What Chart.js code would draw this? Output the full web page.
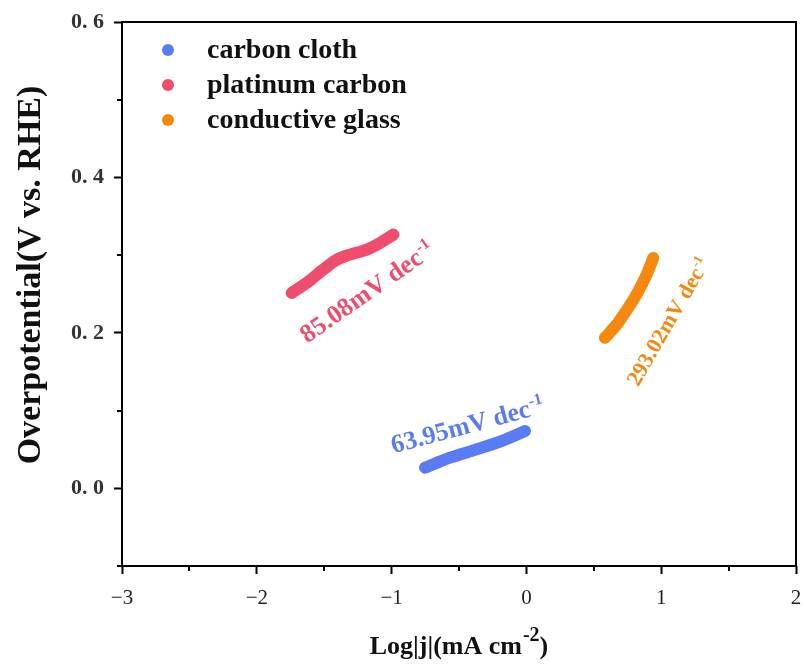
<!DOCTYPE html>
<html>
<head>
<meta charset="utf-8">
<title>Tafel plot</title>
<script src="https://cdn.jsdelivr.net/npm/chart.js@4/dist/chart.umd.min.js"></script>
<style>
  html, body { margin: 0; padding: 0; background: #fff; }
  canvas { display: block; }
</style>
</head>
<body>
<canvas id="tafel" width="803" height="670"></canvas>
<script>
// Series names
const seriesNames = ['carbon cloth', 'platinum carbon', 'conductive glass'];

// Log|j| values (mA cm-2) for each electrode
const clothLogJ    = [-0.752, -0.567, -0.369, -0.171, -0.010];
const platinumLogJ = [-1.741, -1.630, -1.507, -1.407, -1.309, -1.185, -1.086, -0.987];
const glassLogJ    = [0.583, 0.670, 0.756, 0.830, 0.892, 0.941];

// Overpotential values (V vs. RHE)
const clothEta    = [0.0266, 0.0394, 0.0501, 0.0617, 0.0736];
const platinumEta = [0.2514, 0.2643, 0.2814, 0.2942, 0.3007, 0.3071, 0.3157, 0.3264];
const glassEta    = [0.1936, 0.2107, 0.2322, 0.2535, 0.2750, 0.2964];

// Tafel slopes written next to each curve
const tafelSlopes = ['63.95', '85.08', '293.02'];

// Tick labels
const xTickValues = [-3, -2, -1, 0, 1, 2];
const xTickLabels = ['\u22123', '\u22122', '\u22121', '0', '1', '2'];
const yTickValues = [0.0, 0.2, 0.4, 0.6];
const yTickLabels = ['0. 0', '0. 2', '0. 4', '0. 6'];

const colors = ['#5a7cf2', '#ef4d6e', '#f5880f'];

const toPoints = (xs, ys) => xs.map((x, i) => ({ x: x, y: ys[i] }));

// Where each slope label starts (axis units), its rotation and size
const slopeLabelPlacement = [
  { x: -0.985, y: 0.045, angle: -15, size: 26 },
  { x: -1.625, y: 0.186, angle: -35, size: 26 },
  { x: 0.830,  y: 0.130, angle: -60, size: 22 }
];

const SERIF = '"Liberation Serif", "Times New Roman", serif';

const near = (v, list) => list.findIndex(t => Math.abs(t - v) < 1e-6);

const frameAndText = {
  id: 'frameAndText',
  afterDraw(chart) {
    const { ctx, chartArea: a, scales } = chart;
    ctx.save();

    // short minor ticks between the labelled ones
    ctx.strokeStyle = '#000';
    ctx.lineWidth = 2;
    ctx.beginPath();
    scales.x.ticks.forEach(t => {
      if (near(t.value, xTickValues) < 0) {
        const px = Math.round(scales.x.getPixelForValue(t.value));
        ctx.moveTo(px, a.bottom); ctx.lineTo(px, a.bottom + 5);
      }
    });
    scales.y.ticks.forEach(t => {
      if (near(t.value, yTickValues) < 0) {
        const py = Math.round(scales.y.getPixelForValue(t.value));
        ctx.moveTo(a.left, py); ctx.lineTo(a.left - 5, py);
      }
    });
    ctx.stroke();

    // box around plot area
    ctx.strokeRect(a.left, a.top, a.right - a.left, a.bottom - a.top);

    // legend inside the plot
    chart.data.datasets.forEach((ds, i) => {
      const cy = 50 + i * 35;
      ctx.fillStyle = ds.borderColor;
      ctx.beginPath();
      ctx.arc(168, cy, 6, 0, Math.PI * 2);
      ctx.fill();
      ctx.fillStyle = '#111';
      ctx.font = 'bold 28px ' + SERIF;
      ctx.textAlign = 'left';
      ctx.textBaseline = 'middle';
      ctx.fillText(ds.label, 207, cy + 1);
    });

    // slope labels along the curves
    slopeLabelPlacement.forEach((p, i) => {
      const px = scales.x.getPixelForValue(p.x);
      const py = scales.y.getPixelForValue(p.y);
      ctx.save();
      ctx.translate(px, py);
      ctx.rotate(p.angle * Math.PI / 180);
      ctx.fillStyle = colors[i];
      ctx.textAlign = 'left';
      ctx.textBaseline = 'alphabetic';
      ctx.font = 'bold ' + p.size + 'px ' + SERIF;
      const main = tafelSlopes[i] + 'mV dec';
      ctx.fillText(main, 0, 0);
      const w = ctx.measureText(main).width;
      ctx.font = 'bold ' + Math.round(p.size * 0.6) + 'px ' + SERIF;
      ctx.fillText('-1', w + 1, -Math.round(p.size * 0.38));
      ctx.restore();
    });

    // y axis title
    ctx.save();
    ctx.translate(31, 275);
    ctx.rotate(-Math.PI / 2);
    ctx.fillStyle = '#111';
    ctx.font = 'bold 34px ' + SERIF;
    ctx.textAlign = 'center';
    ctx.textBaseline = 'middle';
    ctx.fillText('Overpotential(V vs. RHE)', 0, 0);
    ctx.restore();

    // x axis title with superscript
    ctx.save();
    ctx.fillStyle = '#111';
    ctx.textBaseline = 'alphabetic';
    ctx.textAlign = 'left';
    const base = 'Log|j|(mA cm', sup = '-2', close = ')';
    const big = 'bold 26px ' + SERIF, small = 'bold 20px ' + SERIF;
    ctx.font = big;
    const wBase = ctx.measureText(base).width;
    const wClose = ctx.measureText(close).width;
    ctx.font = small;
    const wSup = ctx.measureText(sup).width;
    const total = wBase + wSup + wClose + 1;
    const x0 = (a.left + a.right) / 2 - total / 2;
    const by = 654;
    ctx.font = big;
    ctx.fillText(base, x0, by);
    ctx.font = small;
    ctx.fillText(sup, x0 + wBase + 1, by - 13);
    ctx.font = big;
    ctx.fillText(close, x0 + wBase + wSup + 1, by);
    ctx.restore();

    ctx.restore();
  }
};

// major ticks only; minor ones are drawn shorter by the plugin
const majorTickColor = list => c => (c.tick && near(c.tick.value, list) >= 0 ? '#000' : 'rgba(0,0,0,0)');

new Chart(document.getElementById('tafel'), {
  type: 'line',
  data: {
    datasets: [
      { label: seriesNames[0], data: toPoints(clothLogJ, clothEta) },
      { label: seriesNames[1], data: toPoints(platinumLogJ, platinumEta) },
      { label: seriesNames[2], data: toPoints(glassLogJ, glassEta) }
    ].map((d, i) => Object.assign(d, {
      borderColor: colors[i],
      backgroundColor: colors[i],
      borderWidth: 12,
      borderCapStyle: 'round',
      borderJoinStyle: 'round',
      pointRadius: 0,
      tension: 0.3,
      fill: false
    }))
  },
  options: {
    responsive: false,
    animation: false,
    devicePixelRatio: 1,
    layout: { padding: { top: 22, right: 7, left: 0, bottom: 0 } },
    plugins: { legend: { display: false }, tooltip: { enabled: false } },
    scales: {
      x: {
        type: 'linear',
        min: -3, max: 2,
        afterFit: s => { s.height = 104; s.paddingLeft = 0; s.paddingRight = 0; },
        border: { display: false },
        grid: { drawOnChartArea: false, drawTicks: true, tickLength: 8, tickWidth: 2, tickColor: majorTickColor(xTickValues) },
        ticks: {
          stepSize: 0.5,
          autoSkip: false,
          maxRotation: 0,
          padding: 12,
          color: '#222',
          font: { family: SERIF, size: 21 },
          callback: v => { const k = near(v, xTickValues); return k >= 0 ? xTickLabels[k] : ''; }
        }
      },
      y: {
        type: 'linear',
        min: -0.1, max: 0.6,
        afterFit: s => { s.width = 122; s.paddingTop = 0; s.paddingBottom = 0; },
        border: { display: false },
        grid: { drawOnChartArea: false, drawTicks: true, tickLength: 8, tickWidth: 2, tickColor: majorTickColor(yTickValues) },
        ticks: {
          stepSize: 0.1,
          autoSkip: false,
          padding: 10,
          color: '#333',
          font: { family: SERIF, size: 22, weight: 'bold' },
          callback: v => { const k = near(v, yTickValues); return k >= 0 ? yTickLabels[k] : ''; }
        }
      }
    }
  },
  plugins: [frameAndText]
});
</script>
</body>
</html>
